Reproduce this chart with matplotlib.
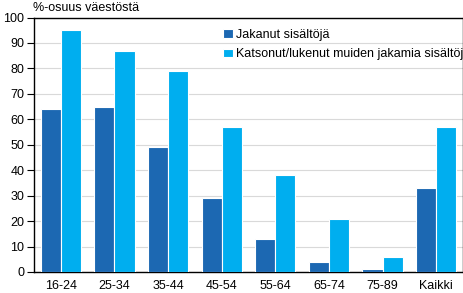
import matplotlib
matplotlib.use("Agg")
import matplotlib.pyplot as plt
import numpy as np

categories = ["16-24", "25-34", "35-44", "45-54", "55-64", "65-74", "75-89", "Kaikki"]
jakanut = [64, 65, 49, 29, 13, 4, 1, 33]
katsonut = [95, 87, 79, 57, 38, 21, 6, 57]
series_names = ["Jakanut sisältöjä", "Katsonut/lukenut muiden jakamia sisältöjä"]
yticks = list(range(0, 101, 10))

plt.rcParams['font.family'] = ['Liberation Sans', 'DejaVu Sans']
fig = plt.figure(figsize=(4.64, 2.93), dpi=100)
ax = fig.add_axes([34/464, 1 - 272/293, (463-34)/464, (272-17.5)/293])

x = np.arange(len(categories))
w = 0.375
ax.bar(x - w/2, jakanut, width=w, color="#1c68b2", edgecolor="white", linewidth=0.8, label=series_names[0], zorder=3)
ax.bar(x + w/2, katsonut, width=w, color="#00aeef", edgecolor="white", linewidth=0.8, label=series_names[1], zorder=3)

ax.set_xlim(-0.5, len(categories) - 0.5)
ax.set_ylim(0, 100)
ax.set_yticks(yticks)
ax.set_xticks(x)
ax.set_xticklabels(categories)
ax.tick_params(axis='x', length=0, pad=6, labelsize=9)
ax.tick_params(axis='y', length=5, width=0.8, pad=2, labelsize=9)
ax.grid(axis='y', color="#d9d9d9", linewidth=0.8, zorder=0)
for s in ax.spines.values():
    s.set_linewidth(1.0)
    s.set_color("black")

leg = ax.legend(loc="upper left", bbox_to_anchor=(0.43, 0.975), frameon=False,
                fontsize=9, handlelength=0.8, handleheight=0.7, handletextpad=0.2,
                labelspacing=0.6, borderaxespad=0)
for t in leg.get_texts():
    t.set_clip_on(True)
    t.set_clip_box(ax.bbox)

fig.text(33/464, 1 - 8/293, "%-osuus väestöstä", fontsize=9, ha="left", va="center")

fig.savefig("out.png", dpi=100)
